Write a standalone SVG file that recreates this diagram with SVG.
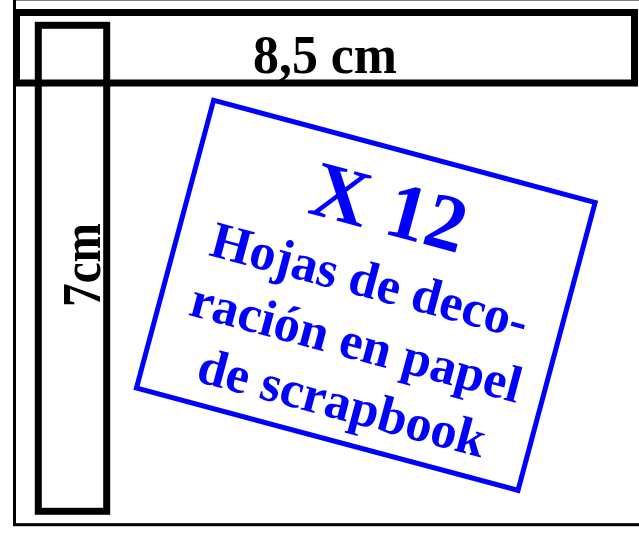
<svg xmlns="http://www.w3.org/2000/svg" width="639" height="536" viewBox="0 0 639 536">
<style>
.blk{fill:none;stroke:#000;stroke-width:7}
.lbl{font-family:"Liberation Serif","Times New Roman",serif;font-weight:bold;fill:#000;font-size:54px;text-anchor:middle}
.blue{font-family:"Liberation Serif","Times New Roman",serif;font-weight:bold;fill:#0000FF;text-anchor:middle}
</style>
<rect width="639" height="536" fill="#fff"/>
<g id="frame">
<rect x="14.5" y="-1" width="700" height="525.7" fill="none" stroke="#000" stroke-width="3"/>
</g>
<g id="width-band">
<rect class="blk" x="16.5" y="12.5" width="618" height="70.5"/>
<text class="lbl" x="325" y="73" textLength="144" lengthAdjust="spacingAndGlyphs">8,5 cm</text>
</g>
<g id="height-strip">
<rect class="blk" x="38.3" y="25.3" width="68.4" height="486"/>
<text class="lbl" transform="translate(100,265) rotate(-90)" x="0" y="0" textLength="84" lengthAdjust="spacingAndGlyphs">7cm</text>
</g>
<g id="card" transform="translate(365.8,295.3) rotate(15)">
<rect x="-197.5" y="-149" width="395" height="298" fill="#fff" stroke="#0000FF" stroke-width="5"/>
<text class="blue" x="0" y="-64.5" font-size="80">X 12</text>
<text class="blue" x="0" y="2" font-size="52">Hojas de deco-</text>
<text class="blue" x="3" y="65" font-size="52">ración en papel</text>
<text class="blue" x="5" y="127" font-size="52">de scrapbook</text>
</g>
</svg>
